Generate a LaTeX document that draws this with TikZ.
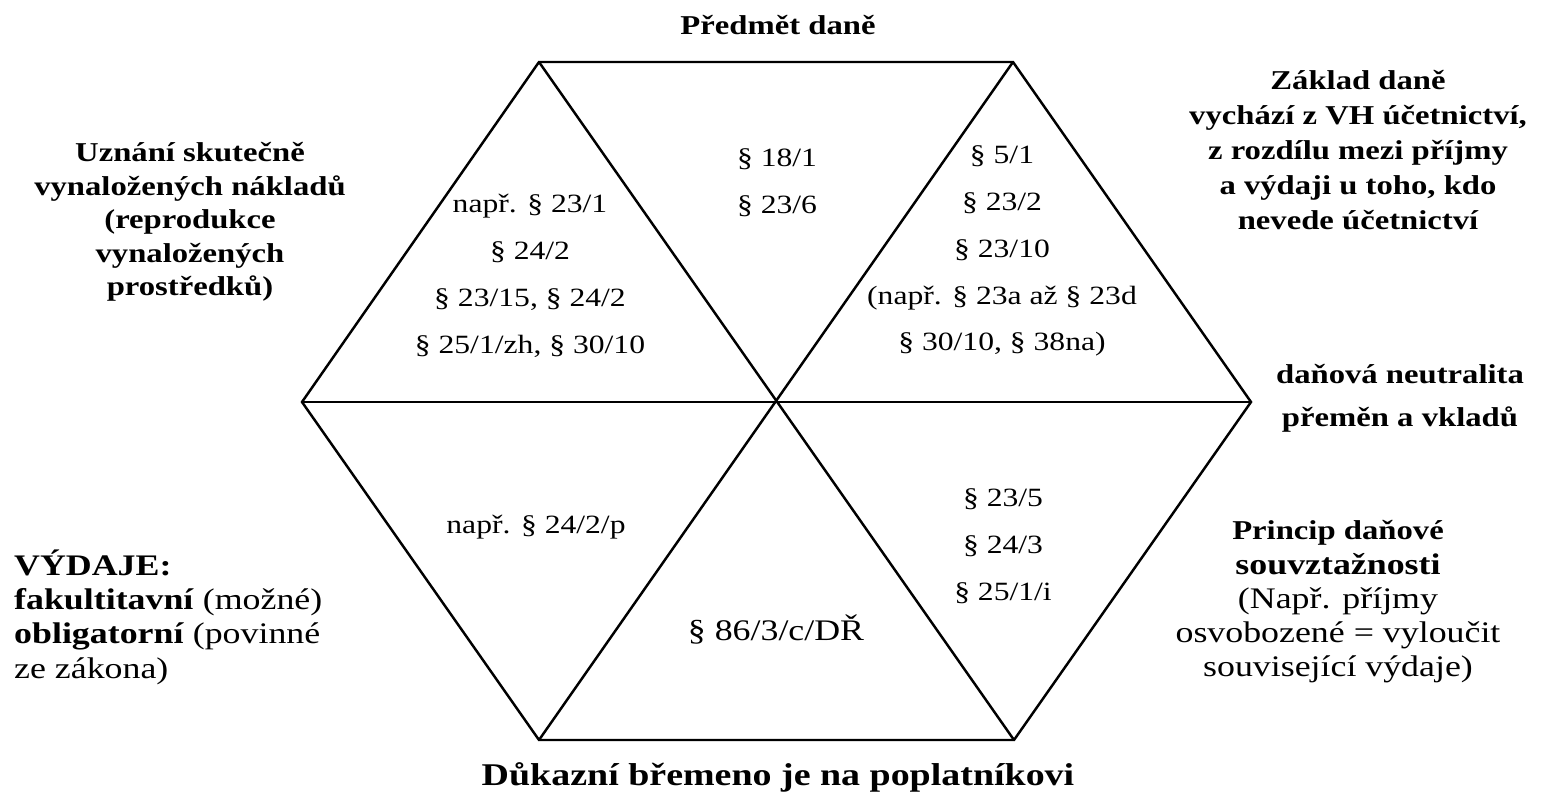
\documentclass[tikz,border=0pt]{standalone}
\usepackage{fontspec}
\setmainfont{Liberation Serif}[FakeStretch=1.2]
\begin{document}
\begin{tikzpicture}[x=0.02cm,y=-0.02cm,
  edge/.style={line width=1.4pt, line join=miter},
  para/.style={align=center, font=\fontsize{15}{26.7}\selectfont},
  heading/.style={align=center, font=\bfseries\fontsize{15.5}{19}\selectfont}]
\useasboundingbox (0,0) rectangle (1542,803);
% hexagon corners
\coordinate (topl) at (539,62);
\coordinate (topr) at (1013,62);
\coordinate (right) at (1251,402);
\coordinate (botr) at (1014,740);
\coordinate (botl) at (539,740);
\coordinate (left) at (302,402);
\draw[edge] (topl) -- (topr) -- (right) -- (botr) -- (botl) -- (left) -- cycle;
\draw[edge] (topl) -- (botr);
\draw[edge] (topr) -- (botl);
\draw[edge] (left) -- (right);
% paragraphs inside the triangles
\node[para] (tri1) at (530,276) {např. § 23/1\\ § 24/2\\ § 23/15, § 24/2\\ § 25/1/zh, § 30/10};
\node[para] (tri2) at (777,183) {§ 18/1\\ § 23/6};
\node[para] (tri3) at (1002,251) {§ 5/1\\ § 23/2\\ § 23/10\\ (např. § 23a až § 23d\\ § 30/10, § 38na)};
\node[para] (tri4) at (1003,546) {§ 23/5\\ § 24/3\\ § 25/1/i};
\node[para] (tri5) at (536,527) {např. § 24/2/p};
\node[para, font=\fontsize{17}{20}\selectfont] (tri6) at (776,630) {§ 86/3/c/DŘ};
% labels around the hexagon
\node[heading] (subject) at (778,25) {Předmět daně};
\node[heading, font=\bfseries\fontsize{15.5}{19.9}\selectfont] (base) at (1358,150) {Základ daně\\ vychází z VH účetnictví,\\ z rozdílu mezi příjmy\\ a výdaji u toho, kdo\\ nevede účetnictví};
\node[heading] (costs) at (190,222) {Uznání skutečně\\ vynaložených nákladů\\ (reprodukce\\ vynaložených\\ prostředků)};
\node[heading, font=\bfseries\fontsize{15.5}{24.5}\selectfont] (neutral) at (1400,398) {daňová neutralita\\ přeměn a vkladů};
\node[align=center, font=\fontsize{17}{19.5}\selectfont] (relation) at (1338,602) {{\bfseries\fontsize{15.5}{19.5}\selectfont Princip daňové}\\ \textbf{souvztažnosti}\\ (Např. příjmy\\ osvobozené = vyloučit\\ související výdaje)};
\node[align=left, anchor=west, font=\fontsize{17}{19.5}\selectfont] (expenses) at (8,617) {\textbf{VÝDAJE:}\\ \textbf{fakultitavní} (možné)\\ \textbf{obligatorní} (povinné\\ ze zákona)};
\node[heading, font=\bfseries\fontsize{18}{21}\selectfont] (proof) at (778,777) {Důkazní břemeno je na poplatníkovi};
\end{tikzpicture}
\end{document}
